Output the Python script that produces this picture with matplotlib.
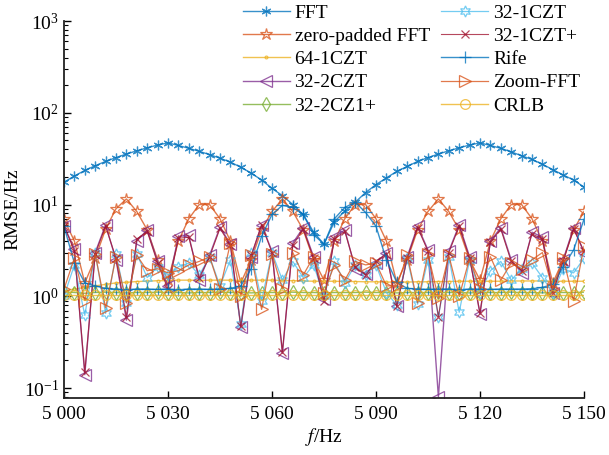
import numpy as np
import matplotlib
matplotlib.use("Agg")
import matplotlib.pyplot as plt
from matplotlib.ticker import LogLocator, LogFormatterMathtext, NullFormatter

plt.rcParams['font.family'] = ['Liberation Serif', 'DejaVu Serif']
plt.rcParams['mathtext.fontset'] = 'stix'
plt.rcParams['font.size'] = 14

freq = np.arange(5000, 5151, 3)
xtick_vals = [5000, 5030, 5060, 5090, 5120, 5150]
xtick_labels = ["5 000", "5 030", "5 060", "5 090", "5 120", "5 150"]

fft = [17.5, 20.5, 23.5, 26.5, 29.5, 32.5, 35.5, 38.5, 41.5, 44.5, 47.0,
       44.0, 41.0, 38.0, 35.0, 32.0, 29.0, 25.5, 22.0, 18.5, 15.0, 12.5, 10.0, 7.8, 5.0, 3.7,
       6.5, 8.5, 10.6, 13.5, 16.5, 19.5, 23.0, 26.0, 29.5, 32.5, 35.5, 38.5, 41.5, 44.5, 47.0,
       44.0, 41.0, 37.5, 34.0, 31.0, 27.5, 24.0, 21.0, 18.5, 15.5]
zp_fft = [6.9, 4.0, 1.4, 2.6, 5.4, 9.0, 11.5, 8.4, 5.3, 2.5, 1.5,
          4.0, 7.0, 10.0, 10.0, 7.0, 4.0, 1.4, 2.5, 5.3, 8.4,
          11.5, 8.4, 5.3, 2.5, 1.5, 4.0, 7.0, 10.0, 10.0, 7.0,
          4.0, 1.4, 2.5, 5.3, 8.4, 11.5, 8.4, 5.3, 2.5, 1.5,
          4.0, 7.0, 10.0, 10.0, 7.0, 4.0, 1.4, 2.5, 5.3, 8.4]
czt64_1 = [1.15, 1.2, 1.25, 1.3, 1.35, 1.4, 1.42, 1.45, 1.46, 1.48, 1.48,
           1.5, 1.5, 1.49, 1.5, 1.5, 1.5, 1.49, 1.5, 1.5, 1.5,
           1.49, 1.48, 1.47, 1.46, 1.46, 1.46, 1.45, 1.45, 1.44, 1.44,
           1.43, 1.43, 1.43, 1.44, 1.44, 1.45, 1.45, 1.46, 1.46, 1.46,
           1.46, 1.46, 1.47, 1.47, 1.47, 1.47, 1.46, 1.46, 1.46, 1.46]
czt32_2 = [5.8, 3.3, 0.14, 3.0, 6.0, 2.5, 0.55, 4.0, 5.3, 2.4, 1.3,
           4.5, 4.6, 1.5, 2.8, 5.7, 3.7, 0.46, 2.7, 6.0, 3.1,
           0.24, 3.8, 5.6, 2.7, 0.93, 4.4, 5.3, 2.0, 1.75, 2.3,
           3.0, 0.78, 2.7, 5.8, 3.2, 0.08, 3.1, 6.0, 2.7, 0.64,
           4.0, 5.6, 2.5, 1.8, 5.0, 4.4, 1.1, 2.5, 5.6, 3.0]
czt32_2p = [1.12, 1.1, 1.08, 1.1, 1.11, 1.1, 1.09, 1.1, 1.1, 1.11, 1.1,
            1.1, 1.09, 1.1, 1.1, 1.11, 1.1, 1.1, 1.09, 1.1, 1.1,
            1.1, 1.11, 1.1, 1.1, 1.09, 1.1, 1.1, 1.1, 1.11, 1.1,
            1.1, 1.09, 1.1, 1.1, 1.1, 1.11, 1.1, 1.1, 1.09, 1.1,
            1.1, 1.1, 1.11, 1.1, 1.1, 1.09, 1.1, 1.1, 1.1, 1.11]
czt32_1 = [1.0, 2.2, 0.62, 3.0, 0.65, 2.9, 0.85, 2.9, 1.6, 2.1, 1.7,
           2.1, 2.3, 1.7, 2.7, 1.3, 2.5, 0.5, 3.0, 0.9, 3.0,
           1.5, 2.4, 1.6, 2.2, 1.0, 2.4, 1.4, 2.2, 1.7, 2.2,
           1.1, 0.8, 2.6, 0.82, 2.5, 0.6, 2.7, 0.67, 2.5, 1.1,
           1.9, 2.4, 1.5, 2.0, 2.3, 1.6, 1.1, 2.0, 1.8, 2.6]
czt32_1p = [5.9, 3.1, 0.15, 2.9, 5.8, 2.6, 0.6, 4.2, 5.1, 2.3, 1.2,
            4.3, 4.4, 1.6, 2.7, 5.5, 3.6, 0.47, 2.8, 6.0, 3.0,
            0.25, 3.6, 5.4, 2.6, 0.88, 4.2, 5.1, 2.1, 1.7, 2.4,
            2.9, 0.78, 2.6, 5.6, 3.1, 0.6, 3.0, 5.8, 2.6, 0.66,
            3.9, 5.4, 2.4, 1.9, 4.8, 4.2, 1.1, 2.4, 5.4, 3.1]
rife = [5.8, 2.3, 1.4, 1.3,
        1.22, 1.2, 1.18, 1.2, 1.2, 1.19, 1.2, 1.18, 1.2, 1.2, 1.19, 1.2, 1.22,
        1.3, 2.0, 4.5, 7.8, 9.8, 9.3, 7.8, 4.7, 3.7, 7.0, 9.3, 10.6, 8.2, 5.8, 2.5, 1.42,
        1.22, 1.2, 1.19, 1.2, 1.2, 1.18, 1.2, 1.2, 1.19, 1.2, 1.2, 1.2, 1.21,
        1.25, 1.35, 2.1, 3.2, 6.9]
zoom_fft = [1.2, 2.6, 0.9, 2.9, 0.75, 2.7, 0.85, 2.8, 1.9, 2.0, 1.8,
            1.9, 2.2, 2.4, 2.7, 1.2, 3.8, 1.0, 2.8, 0.72, 2.9,
            1.2, 3.0, 1.7, 2.7, 1.1, 2.2, 1.5, 2.4, 2.2, 2.3,
            1.3, 1.3, 2.8, 0.85, 2.9, 0.95, 2.8, 1.0, 2.6, 1.2,
            2.7, 1.5, 2.3, 2.0, 2.5, 3.0, 1.2, 2.6, 0.9, 3.5]
crlb = [1.03, 1.03, 1.03, 1.03, 1.03, 1.03, 1.03, 1.03, 1.03, 1.03, 1.03,
        1.03, 1.03, 1.03, 1.03, 1.03, 1.03, 1.03, 1.03, 1.03, 1.03,
        1.03, 1.03, 1.03, 1.03, 1.03, 1.03, 1.03, 1.03, 1.03, 1.03,
        1.03, 1.03, 1.03, 1.03, 1.03, 1.03, 1.03, 1.03, 1.03, 1.03,
        1.03, 1.03, 1.03, 1.03, 1.03, 1.03, 1.03, 1.03, 1.03, 1.03]

series = [
    ("FFT", fft, "#0072BD", (6, 2, 0), 7, 1.0),
    ("zero-padded FFT", zp_fft, "#D95319", "*", 9, 1.0),
    ("64-1CZT", czt64_1, "#EDB120", ".", 4, 1.0),
    ("32-2CZT", czt32_2, "#7E2F8E", "<", 8, 1.0),
    ("32-2CZ1+", czt32_2p, "#77AC30", "d", 7, 1.0),
    ("32-1CZT", czt32_1, "#4DBEEE", (6, 1, 0), 8, 0.9),
    ("32-1CZT+", czt32_1p, "#A2142F", "x", 6, 0.8),
    ("Rife", rife, "#0072BD", "+", 8, 1.0),
    ("Zoom-FFT", zoom_fft, "#D95319", ">", 8, 0.9),
    ("CRLB", crlb, "#EDB120", "o", 7, 1.0),
]

fig = plt.figure(figsize=(6.09, 4.55), dpi=100)
ax = fig.add_axes([64/609, 1-398/455, 520/609, 377/455])

for label, vals, color, marker, ms, lw in series:
    ax.plot(freq, vals, color=color, marker=marker, markersize=ms,
            markerfacecolor='none', markeredgecolor=color, markeredgewidth=0.9,
            linewidth=lw, alpha=0.78, label=label, clip_on=True)

ax.set_yscale('log')
ax.set_xlim(5000, 5150)
ax.set_ylim(0.078, 1000)
ax.set_xticks(xtick_vals)
ax.set_xticklabels(xtick_labels)
ax.yaxis.set_major_locator(LogLocator(base=10, numticks=10))
ax.yaxis.set_major_formatter(LogFormatterMathtext())
ax.yaxis.set_minor_locator(LogLocator(base=10, subs=np.arange(2, 10), numticks=20))
ax.yaxis.set_minor_formatter(NullFormatter())
ax.tick_params(axis='both', which='major', direction='in', length=5, width=1, labelsize=14)
ax.tick_params(axis='y', which='minor', direction='in', length=3, width=0.8)
ax.tick_params(axis='x', which='major', pad=6)
for s in ['top', 'right']:
    ax.spines[s].set_visible(False)
for s in ['left', 'bottom']:
    ax.spines[s].set_linewidth(1.3)
    ax.spines[s].set_color('#222222')

ax.set_xlabel("$f$/Hz", fontsize=14, labelpad=2)
ax.set_ylabel("RMSE/Hz", fontsize=14, labelpad=2)

leg = ax.legend(ncol=2, loc='upper left', bbox_to_anchor=(243/609, 1-4/455),
                bbox_transform=fig.transFigure, frameon=False, fontsize=14,
                borderpad=0, borderaxespad=0, labelspacing=0.29, handlelength=2.4,
                handletextpad=0.25, columnspacing=0.6)

fig.savefig("out.png", dpi=100)
